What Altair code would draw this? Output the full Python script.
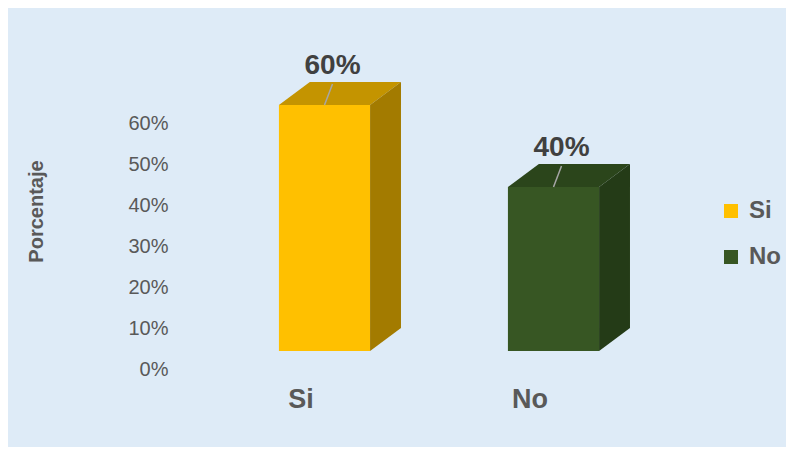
import altair as alt
import pandas as pd

# ---- data ----
categories = ["Si", "No"]
values = [0.60, 0.40]
value_labels = ["60%", "40%"]
front_colors = ["#FFC000", "#375623"]
top_colors = ["#C49400", "#2B451B"]
side_colors = ["#A37B00", "#243B17"]
tick_values = [0.0, 0.1, 0.2, 0.3, 0.4, 0.5, 0.6]

# ---- 3D geometry (styling constants) ----
HW = 0.199     # half width of front face (x units)
DX = 0.135     # depth in x
DY = 0.056     # depth in y
LIFT = -18     # pixel lift of the bars above the axis floor
FONT = "Liberation Sans"
GREY = "#595959"

centers = [i + 0.5 for i in range(len(categories))]

front = pd.DataFrame({
    "cat": categories,
    "x": [c - HW for c in centers],
    "x2": [c + HW for c in centers],
    "y0": [0.0] * len(categories),
    "v": values,
})

top_rows, side_rows = [], []
for cat, c, v, tc, sc in zip(categories, centers, values, top_colors, side_colors):
    L, R = c - HW, c + HW
    top_rows += [
        {"cat": cat, "x": L, "lo": v, "hi": v, "col": tc},
        {"cat": cat, "x": L + DX, "lo": v, "hi": v + DY, "col": tc},
        {"cat": cat, "x": R, "lo": v, "hi": v + DY, "col": tc},
        {"cat": cat, "x": R + DX, "lo": v + DY, "hi": v + DY, "col": tc},
    ]
    side_rows += [
        {"cat": cat, "x": R, "lo": 0.0, "hi": v, "col": sc},
        {"cat": cat, "x": R + DX, "lo": DY, "hi": v + DY, "col": sc},
    ]
top = pd.DataFrame(top_rows)
side = pd.DataFrame(side_rows)

labels = pd.DataFrame({
    "lab": value_labels,
    "x": centers,
    "x2": [c + 0.035 for c in centers],
    "v": values,
    "vl": [v + 0.051 for v in values],
    "ly": [v + 0.095 for v in values],
})

cats = pd.DataFrame({
    "cat": categories,
    "x": [c - 0.103 for c in centers],
    "y": [-0.076] * len(categories),
})

xs = alt.Scale(domain=[0, 2], nice=False, zero=False)
ys = alt.Scale(domain=[0, 0.7], nice=False, zero=False)
yaxis = alt.Axis(
    values=tick_values, format=".0%", labelFontSize=20, labelColor=GREY,
    labelFont=FONT, labelPadding=42, ticks=False, domain=False, grid=False,
    title="Porcentaje", titleFontSize=20, titleFontWeight="bold",
    titleColor=GREY, titleFont=FONT, titleX=-174, titleY=129,
    titleAngle=270, titleBaseline="middle", titleAlign="center")

front_layer = alt.Chart(front).mark_rect(yOffset=LIFT, y2Offset=LIFT).encode(
    x=alt.X("x:Q", scale=xs, axis=None),
    x2="x2:Q",
    y=alt.Y("y0:Q", scale=ys, axis=yaxis),
    y2="v:Q",
    color=alt.Color("cat:N", scale=alt.Scale(domain=categories, range=front_colors),
                    legend=alt.Legend(
                        title=None, orient="none", legendX=509, legendY=117,
                        symbolType="square", symbolSize=196, symbolStrokeWidth=0,
                        labelFontSize=24, labelFontWeight="bold", labelColor=GREY,
                        labelFont=FONT, rowPadding=22, labelOffset=6)),
)

top_layer = alt.Chart(top).mark_area(yOffset=LIFT, y2Offset=LIFT).encode(
    x=alt.X("x:Q", scale=xs, axis=None),
    y=alt.Y("lo:Q", scale=ys, axis=yaxis, stack=None),
    y2="hi:Q",
    detail="cat:N",
    color=alt.Color("col:N", scale=None, legend=None),
)

side_layer = alt.Chart(side).mark_area(yOffset=LIFT, y2Offset=LIFT).encode(
    x=alt.X("x:Q", scale=xs, axis=None),
    y=alt.Y("lo:Q", scale=ys, axis=yaxis, stack=None),
    y2="hi:Q",
    detail="cat:N",
    color=alt.Color("col:N", scale=None, legend=None),
)

leader = alt.Chart(labels).mark_rule(
    yOffset=LIFT, y2Offset=LIFT, color="#A6A6A6", strokeWidth=1.5).encode(
    x=alt.X("x:Q", scale=xs, axis=None),
    x2="x2:Q",
    y=alt.Y("v:Q", scale=ys, axis=yaxis),
    y2="vl:Q",
)

value_text = alt.Chart(labels).mark_text(
    yOffset=LIFT, fontSize=28, fontWeight="bold", color="#404040", font=FONT).encode(
    x=alt.X("x2:Q", scale=xs, axis=None),
    y=alt.Y("ly:Q", scale=ys, axis=yaxis),
    text="lab:N",
)

cat_text = alt.Chart(cats).mark_text(
    fontSize=27, fontWeight="bold", color=GREY, font=FONT).encode(
    x=alt.X("x:Q", scale=xs, axis=None),
    y=alt.Y("y:Q", scale=ys, axis=yaxis),
    text="cat:N",
)

chart = alt.layer(
    front_layer, top_layer, side_layer, leader, value_text, cat_text
).properties(
    width=458, height=287,
    autosize=alt.AutoSizeParams(type="none"),
    padding={"left": 202, "top": 74, "right": 118, "bottom": 78},
    background="#DEEBF7",
).configure_view(stroke=None)

chart.save("out.html", embed_options={"renderer": "svg", "actions": False})
